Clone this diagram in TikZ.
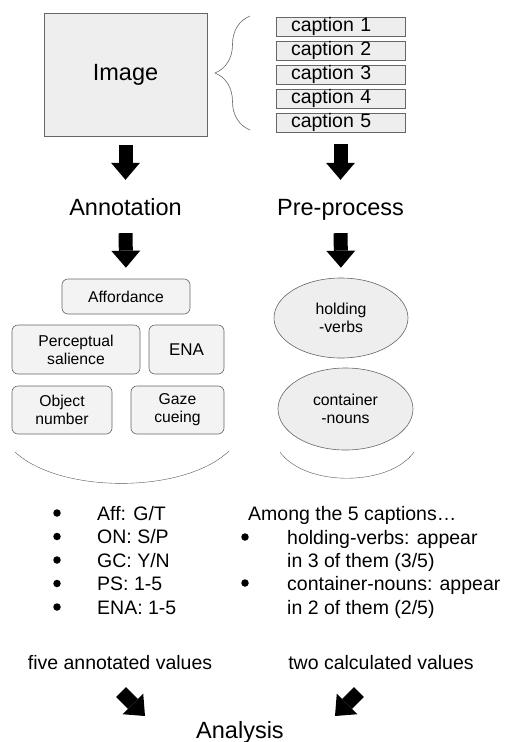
\documentclass[tikz,border=0pt]{standalone}
\usepackage{fontspec}
\setmainfont{Liberation Sans}
\usetikzlibrary{shapes.geometric, arrows.meta, positioning, decorations.pathreplacing}
\definecolor{PanelGray}{HTML}{EEEEEE}
\definecolor{EdgeGray}{HTML}{666666}
\definecolor{ArcGray}{HTML}{555555}
\tikzset{
    % gray panels
    panel/.style={
        rectangle,
        draw=EdgeGray,
        fill=PanelGray,
        semithick
    },
    cap box/.style={
        panel,
        minimum height=19pt,
        text width=99pt,
        inner xsep=15pt,
        inner ysep=0pt,
        text height=14pt,
        text depth=4pt,
        align=left,
        font=\fontsize{19.5}{22}\selectfont
    },
    tag box/.style={
        panel,
        rounded corners=6pt,
        fill=PanelGray!70,
        inner sep=0pt,
        align=center,
        font=\fontsize{15.7}{18}\selectfont
    },
    oval/.style={
        ellipse,
        draw=EdgeGray,
        fill=PanelGray,
        semithick,
        inner sep=0pt,
        align=center,
        font=\fontsize{15.8}{18}\selectfont
    },
    heading/.style={
        inner sep=0pt,
        text height=17pt,
        text depth=0pt,
        font=\fontsize{23.5}{28}\selectfont
    },
    list text/.style={
        inner sep=0pt,
        anchor=west,
        text height=14pt,
        text depth=0pt,
        font=\fontsize{19.5}{23.5}\selectfont
    },
    list dot/.style={
        circle,
        fill=black,
        inner sep=0pt,
        minimum size=7.5pt
    },
    block arrow/.style={
        line width=14pt,
        -{Triangle[length=17pt, width=29pt, line width=0pt]},
        black
    },
    smile/.style={
        ArcGray,
        thin
    }
}

\begin{document}
\begin{tikzpicture}[x=1pt, y=-1pt]
        \useasboundingbox (0,0) rectangle (504,742);

        % Image and its captions
        \node[panel, minimum width=163pt, minimum height=123pt, font=\fontsize{23.5}{28}\selectfont] (img) at (125.5,74.5) {Image};
        \foreach \i in {1,...,5}
            \node[cap box] (cap\i) at (340.5, 2.5+24*\i) {caption \i};
        \draw[EdgeGray, semithick, decorate, decoration={brace, amplitude=35pt}] (250,130) -- (250,16);

        % Stages
        \node[heading] (annot) at (125.5,207) {Annotation};
        \node[heading] (prep) at (340.5,207) {Pre-process};
        \draw[block arrow, shorten <=9pt, shorten >=18.5pt] (img.south) -- (annot.north);
        \draw[block arrow, shorten <=11.5pt, shorten >=18.5pt] (cap5.south) -- (prep.north);

        % Annotation items
        \node[tag box, minimum width=128pt, minimum height=35pt] (aff) at (126,296.5) {Affordance};
        \node[tag box, minimum width=128pt, minimum height=49pt] (ps) at (76,349.5) {Perceptual\\salience};
        \node[tag box, minimum width=75pt, minimum height=49pt, font=\fontsize{17}{20}\selectfont] (ena) at (186.5,349.5) {ENA};
        \node[tag box, minimum width=100pt, minimum height=48pt] (on) at (62,410) {Object\\number};
        \node[tag box, minimum width=93pt, minimum height=48pt] (gc) at (177.5,410) {Gaze\\cueing};
        \draw[block arrow, shorten <=17.5pt, shorten >=11pt] (annot.south) -- (aff.north);

        % Pre-process items
        \node[oval, minimum width=134pt, minimum height=80pt] (hv) at (341,318) {holding\\-verbs};
        \node[oval, minimum width=135pt, minimum height=82pt] (cn) at (345.5,409) {container\\-nouns};
        \draw[block arrow, shorten <=17.5pt, shorten >=10pt] (prep.south) -- (hv.north);

        \draw[smile] (15,452) .. controls (60,494) and (184,494) .. (229,451);
        \draw[smile] (280,452) .. controls (305,487) and (389,487) .. (414,452);

        % Values
        \foreach \t [count=\i] in {Aff: G/T, ON: S/P, GC: Y/N, PS: 1-5, ENA: 1-5} {
            \node[list dot] (lb\i) at (57, 489.5+23.5*\i) {};
            \node[list text] (lv\i) at (97, 489.5+23.5*\i) {\t};
        }
        \node[list text] (among) at (248,513) {Among the 5 captions…};
        \node[list dot] (rb1) at (245,537) {};
        \node[list text, anchor=base west, align=left] (rv1) at (287,567.5) {holding-verbs: appear\\in 3 of them (3/5)};
        \node[list dot] (rb2) at (245,583) {};
        \node[list text, anchor=base west, align=left] (rv2) at (287,614) {container-nouns: appear\\in 2 of them (2/5)};

        \node[list text, anchor=center] (fivevals) at (120,662) {five annotated values};
        \node[list text, anchor=center] (twovals) at (381,662) {two calculated values};

        % Analysis
        \node[heading] (ana) at (240,730) {Analysis};
        \coordinate (lfrom) at (121,692);
        \coordinate (lto) at (145,716);
        \coordinate (rfrom) at (359,692);
        \coordinate (rto) at (335,716);
        \draw[block arrow] (lfrom) -- (lto);
        \draw[block arrow] (rfrom) -- (rto);
    \end{tikzpicture}
\end{document}
